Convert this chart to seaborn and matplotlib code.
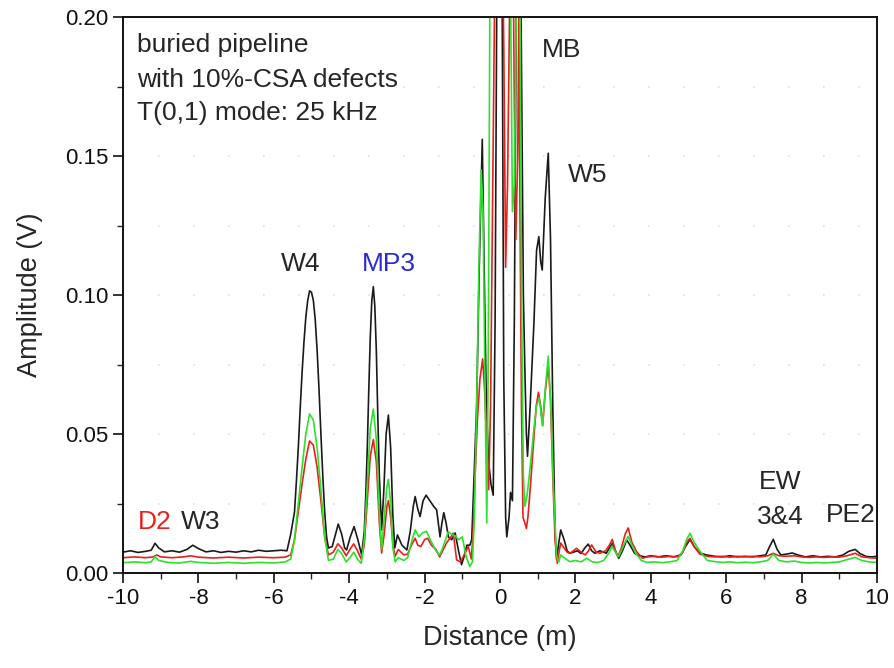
import numpy as np
import pandas as pd
import matplotlib
matplotlib.use('Agg')
import matplotlib.pyplot as plt
from matplotlib.ticker import MultipleLocator
import seaborn as sns

# black trace (reference)
black_x = [-10.0, -9.8, -9.6, -9.4, -9.25, -9.15, -9.05, -8.9, -8.7, -8.5, -8.3, -8.15, -8.0, -7.8, -7.6,
           -7.4, -7.2, -7.0, -6.8, -6.6, -6.4, -6.2, -6.0, -5.8, -5.65, -5.55, -5.45, -5.4, -5.35, -5.3,
           -5.25, -5.2, -5.15, -5.1, -5.05, -5.0, -4.95, -4.9, -4.85, -4.8, -4.75, -4.7, -4.65, -4.6, -4.55,
           -4.45, -4.38, -4.29, -4.2, -4.12, -4.07, -3.97, -3.87, -3.77, -3.67, -3.6, -3.56, -3.52, -3.48,
           -3.44, -3.4, -3.36, -3.32, -3.28, -3.24, -3.2, -3.14, -3.08, -3.02, -2.96, -2.9, -2.84,
           -2.79, -2.72, -2.6, -2.47, -2.38, -2.3, -2.25, -2.18, -2.12, -2.04, -1.96, -1.86, -1.76, -1.68,
           -1.59, -1.54, -1.49, -1.43, -1.37, -1.28, -1.19, -1.1, -1.02, -0.95, -0.88, -0.8, -0.75, -0.7,
           -0.62, -0.55, -0.47, -0.42, -0.36, -0.3, -0.24, -0.18, -0.13, -0.08, 0.0, 0.06, 0.1, 0.15, 0.18,
           0.24, 0.28, 0.33, 0.38, 0.43, 0.5, 0.56, 0.62, 0.66, 0.7, 0.73, 0.8, 0.9, 0.97, 1.03, 1.08, 1.12,
           1.2, 1.28, 1.34, 1.4, 1.46, 1.5, 1.55, 1.61, 1.7, 1.78, 1.85, 1.95, 2.05, 2.15, 2.25, 2.34, 2.43,
           2.52, 2.65, 2.75, 2.82, 2.9, 2.98, 3.06, 3.15, 3.25, 3.36, 3.45, 3.57, 3.7, 3.85, 4.0, 4.2, 4.4,
           4.6, 4.8, 4.92, 5.04, 5.15, 5.3, 5.48, 5.7, 5.9, 6.1, 6.3, 6.5, 6.7, 6.9, 7.05, 7.15, 7.25, 7.35,
           7.45, 7.6, 7.75, 7.9, 8.1, 8.3, 8.5, 8.7, 8.9, 9.1, 9.25, 9.42, 9.55, 9.7, 9.85, 10.0]
black_y = [0.0075, 0.0080, 0.0074, 0.0078, 0.0082, 0.0107, 0.0090, 0.0076, 0.0080, 0.0075, 0.0085, 0.0100,
           0.0088, 0.0076, 0.0080, 0.0074, 0.0078, 0.0075, 0.0080, 0.0076, 0.0082, 0.0078, 0.0080, 0.0082,
           0.0080, 0.0140, 0.0220, 0.033, 0.045, 0.059, 0.072, 0.083, 0.092, 0.098, 0.1015, 0.101, 0.098,
           0.091, 0.080, 0.066, 0.050, 0.035, 0.022, 0.013, 0.009, 0.0095,
           0.013, 0.0176, 0.014, 0.009, 0.0083, 0.013, 0.0167, 0.012, 0.0065, 0.015, 0.028, 0.045, 0.066,
           0.085, 0.098, 0.103, 0.096, 0.080, 0.056, 0.035, 0.0155, 0.030, 0.050, 0.0568, 0.045, 0.020,
           0.009, 0.0137, 0.010, 0.0083, 0.015,
           0.024, 0.0275, 0.023, 0.0203, 0.026, 0.028, 0.026, 0.024, 0.0227, 0.013, 0.018, 0.0217, 0.018,
           0.013, 0.012, 0.0144, 0.008, 0.003, 0.006, 0.010, 0.010, 0.012, 0.030, 0.060, 0.110, 0.156, 0.110,
           0.060, 0.040, 0.032, 0.028, 0.090, 0.220, 0.260, 0.200, 0.070, 0.020, 0.013, 0.020, 0.029, 0.026,
           0.090, 0.200, 0.260, 0.200, 0.100, 0.073, 0.050, 0.042, 0.060, 0.090, 0.116, 0.121, 0.112, 0.109,
           0.135, 0.151, 0.120, 0.060, 0.015, 0.005, 0.010, 0.0155, 0.012, 0.008, 0.0071, 0.0075, 0.008,
           0.007, 0.009, 0.0104, 0.008, 0.0071, 0.008, 0.0075, 0.0071, 0.009, 0.0107, 0.008, 0.0053, 0.008,
           0.0119, 0.010, 0.0071, 0.0062, 0.0058, 0.0062, 0.0058, 0.0062, 0.0058, 0.0065, 0.0095, 0.0121,
           0.0095, 0.0072, 0.0065, 0.0060, 0.0058, 0.0062, 0.0058, 0.0060, 0.0058, 0.0062, 0.0065, 0.0095,
           0.0121, 0.0085, 0.0065, 0.0068, 0.0072, 0.0065, 0.0058, 0.0062, 0.0058, 0.0060, 0.0058, 0.0065,
           0.0078, 0.0085, 0.0070, 0.0060, 0.0058, 0.0060]

# red trace
red_x = [-10.0, -9.7, -9.4, -9.2, -9.1, -9.0, -8.7, -8.4, -8.2, -8.0, -7.6, -7.2, -6.8, -6.4, -6.0, -5.7,
         -5.55, -5.45, -5.35, -5.25, -5.15, -5.05, -4.95, -4.85, -4.75, -4.65, -4.55, -4.42, -4.3, -4.2,
         -4.08, -3.98, -3.88, -3.78, -3.68, -3.6, -3.52, -3.44, -3.36, -3.28, -3.2, -3.14, -3.07, -3.0,
         -2.96, -2.9, -2.84, -2.78, -2.7, -2.55, -2.45, -2.35, -2.25, -2.18, -2.1, -2.0, -1.92, -1.82, -1.7,
         -1.6, -1.52, -1.43, -1.36, -1.3, -1.24, -1.18, -1.15, -1.05, -0.95, -0.88, -0.84, -0.76, -0.71,
         -0.66, -0.6, -0.53, -0.46, -0.4, -0.35, -0.3, -0.25, -0.2, -0.14, -0.08, -0.02, 0.04, 0.1, 0.15,
         0.2, 0.27, 0.33, 0.38, 0.42, 0.47, 0.5, 0.53, 0.57, 0.61, 0.66, 0.7, 0.74, 0.8, 0.88, 0.96, 1.02,
         1.08, 1.13, 1.2, 1.28, 1.34, 1.4, 1.46, 1.52, 1.56, 1.61, 1.7, 1.78, 1.85, 1.95, 2.03, 2.15, 2.26,
         2.35, 2.43, 2.55, 2.65, 2.8, 2.9, 2.98, 3.06, 3.13, 3.22, 3.32, 3.4, 3.5, 3.62, 3.78, 3.9, 4.1,
         4.3, 4.5, 4.7, 4.85, 4.95, 5.04, 5.15, 5.3, 5.5, 5.7, 5.9, 6.1, 6.3, 6.5, 6.7, 6.9, 7.1, 7.25,
         7.4, 7.6, 7.8, 8.0, 8.2, 8.4, 8.6, 8.8, 9.0, 9.2, 9.42, 9.6, 9.8, 10.0]
red_y = [0.0055, 0.0058, 0.0055, 0.0058, 0.0065, 0.0058, 0.0055, 0.0058, 0.0062, 0.0057, 0.0054, 0.0057,
         0.0054, 0.0057, 0.0055, 0.0057, 0.0065, 0.012, 0.022, 0.032, 0.041, 0.0475, 0.046, 0.038, 0.026,
         0.013, 0.0065, 0.0075, 0.0105, 0.009, 0.0062, 0.0085, 0.0105, 0.008, 0.005, 0.010, 0.026, 0.042,
         0.048, 0.040, 0.018, 0.0072, 0.014, 0.024, 0.026, 0.020, 0.010, 0.006, 0.0085, 0.0065, 0.0068,
         0.010, 0.0125, 0.010, 0.0095, 0.012, 0.0125, 0.010, 0.0085, 0.0058, 0.008, 0.0105, 0.012, 0.013,
         0.0143, 0.008, 0.0047, 0.004, 0.0065, 0.0085, 0.0095, 0.005, 0.015, 0.035, 0.055, 0.070, 0.077,
         0.064, 0.045, 0.030, 0.060, 0.130, 0.210, 0.250, 0.240, 0.250, 0.190, 0.110, 0.140, 0.220, 0.250,
         0.170, 0.120, 0.150, 0.200, 0.130, 0.060, 0.020, 0.018, 0.016, 0.020, 0.030, 0.045, 0.060, 0.065,
         0.060, 0.053, 0.065, 0.075, 0.062, 0.035, 0.012, 0.0035, 0.007, 0.0108, 0.009, 0.0075, 0.0071,
         0.008, 0.0089, 0.0075, 0.0065, 0.008, 0.0101, 0.0075, 0.0071, 0.008, 0.010, 0.0121, 0.008, 0.0059,
         0.009, 0.014, 0.0162, 0.011, 0.0077, 0.0053, 0.0058, 0.0060, 0.0057, 0.0060, 0.0058, 0.0075,
         0.011, 0.0125, 0.0095, 0.0068, 0.0060, 0.0058, 0.0060, 0.0057, 0.0060, 0.0058, 0.0060, 0.0058,
         0.0062, 0.0071, 0.0062, 0.0060, 0.0062, 0.0058, 0.0056, 0.0058, 0.0056, 0.0058, 0.0057, 0.0062,
         0.0071, 0.0058, 0.0055, 0.0053]

# green trace
green_x = [-10.0, -9.7, -9.4, -9.25, -9.15, -9.05, -8.8, -8.5, -8.2, -8.0, -7.6, -7.2, -6.8, -6.4, -6.0,
           -5.7, -5.55, -5.45, -5.35, -5.25, -5.15, -5.05, -4.95, -4.85, -4.75, -4.65, -4.55, -4.42, -4.3,
           -4.2, -4.08, -3.98, -3.88, -3.78, -3.68, -3.6, -3.52, -3.44, -3.36, -3.28, -3.2, -3.14, -3.07,
           -3.0, -2.96, -2.9, -2.84, -2.78, -2.7, -2.55, -2.45, -2.35, -2.25, -2.15, -2.05, -1.95, -1.85,
           -1.7, -1.6, -1.52, -1.43, -1.37, -1.3, -1.2, -1.1, -1.0, -0.9, -0.8, -0.73, -0.68, -0.62, -0.56,
           -0.5, -0.45, -0.4, -0.35, -0.31, -0.27, -0.22, -0.1, 0.0, 0.1, 0.2, 0.28, 0.33, 0.38, 0.43, 0.48,
           0.53, 0.57, 0.62, 0.66, 0.72, 0.8, 0.9, 0.97, 1.04, 1.1, 1.13, 1.2, 1.28, 1.35, 1.42, 1.5, 1.56,
           1.61, 1.7, 1.85, 2.0, 2.15, 2.3, 2.45, 2.6, 2.75, 2.88, 2.97, 3.06, 3.15, 3.28, 3.4, 3.5, 3.6,
           3.75, 3.9, 4.1, 4.3, 4.5, 4.7, 4.85, 4.95, 5.04, 5.15, 5.31, 5.5, 5.7, 5.9, 6.1, 6.3, 6.5, 6.7,
           6.9, 7.1, 7.25, 7.4, 7.6, 7.8, 8.0, 8.2, 8.4, 8.6, 8.8, 9.0, 9.2, 9.42, 9.6, 9.8, 10.0]
green_y = [0.0037, 0.0040, 0.0037, 0.0040, 0.0059, 0.0045, 0.0038, 0.0036, 0.0042, 0.0038, 0.0035, 0.0038,
           0.0035, 0.0038, 0.0036, 0.0040, 0.0050, 0.012, 0.025, 0.038, 0.050, 0.0572, 0.055, 0.045, 0.030,
           0.013, 0.0045, 0.005, 0.0085, 0.007, 0.004, 0.0055, 0.0075, 0.005, 0.0035, 0.012, 0.032, 0.052,
           0.059, 0.048, 0.022, 0.0085, 0.020, 0.031, 0.0337, 0.025, 0.009, 0.004, 0.0055, 0.0045, 0.0055,
           0.011, 0.0155, 0.013, 0.0145, 0.015, 0.012, 0.008, 0.0065, 0.009, 0.0125, 0.0149, 0.014, 0.0135,
           0.012, 0.013, 0.006, 0.0023, 0.004, 0.020, 0.059, 0.110, 0.145, 0.130, 0.070, 0.018, 0.080, 0.200,
           0.260, 0.260, 0.250, 0.260, 0.260, 0.210, 0.130, 0.140, 0.200, 0.260, 0.210, 0.100, 0.035, 0.024,
           0.028, 0.038, 0.052, 0.060, 0.063, 0.056, 0.053, 0.066, 0.078, 0.060, 0.030, 0.006, 0.004, 0.0065,
           0.0055, 0.0041, 0.0045, 0.0040, 0.0053, 0.0040, 0.0038, 0.0045, 0.007, 0.0095, 0.0075, 0.0059,
           0.010, 0.0132, 0.010, 0.0071, 0.0045, 0.0038, 0.0040, 0.0037, 0.0040, 0.0045, 0.008, 0.012,
           0.0143, 0.011, 0.0077, 0.0045, 0.0041, 0.0038, 0.0040, 0.0037, 0.0039, 0.0037, 0.0040, 0.0045,
           0.0068, 0.0045, 0.0040, 0.0043, 0.0038, 0.0036, 0.0038, 0.0036, 0.0038, 0.0040, 0.0048, 0.0056,
           0.0045, 0.0040, 0.0038]

x_ticks = [-10, -8, -6, -4, -2, 0, 2, 4, 6, 8, 10]
y_ticks = [0.00, 0.05, 0.10, 0.15, 0.20]

frames = []
for name, xs, ys in [('black', black_x, black_y), ('red', red_x, red_y), ('green', green_x, green_y)]:
    frames.append(pd.DataFrame({'Distance': xs, 'Amplitude': ys, 'trace': name}))
df = pd.concat(frames, ignore_index=True)

sns.set_style('ticks')
plt.rcParams['font.family'] = ['Liberation Sans', 'DejaVu Sans']

fig = plt.figure(figsize=(8.95, 6.68), dpi=100)
ax = fig.add_axes([0.1374, 0.1422, 0.8425, 0.8323])

sns.lineplot(data=df, x='Distance', y='Amplitude', hue='trace',
             palette={'black': '#1a1a1a', 'red': '#e8201c', 'green': '#2ee02e'},
             estimator=None, sort=False, legend=False, linewidth=1.2, ax=ax)

ax.set_xlim(-10, 10)
ax.set_ylim(0, 0.2)
ax.set_xticks(x_ticks)
ax.set_xticklabels([str(t) for t in x_ticks])
ax.set_yticks(y_ticks)
ax.set_yticklabels([f'{t:.2f}' for t in y_ticks])
ax.xaxis.set_minor_locator(MultipleLocator(1))
ax.yaxis.set_minor_locator(MultipleLocator(0.025))
ax.tick_params(which='major', direction='out', length=7, width=1.2, labelsize=16, colors='#111111')
ax.tick_params(which='minor', direction='out', length=4, width=1.0)
ax.grid(True, which='both', axis='y', color='#bfeef2', linestyle=(0, (1, 20)), linewidth=1.2)
for s in ax.spines.values():
    s.set_linewidth(1.4)
    s.set_color('#111111')

ax.set_xlabel('Distance (m)', fontsize=19.5, labelpad=12)
ax.set_ylabel('Amplitude (V)', fontsize=19.5, labelpad=16)

fs = 19
ax.text(-9.63, 0.19, 'buried pipeline', fontsize=fs, va='center')
ax.text(-9.63, 0.1775, 'with 10%-CSA defects', fontsize=fs, va='center')
ax.text(-9.63, 0.1655, 'T(0,1) mode: 25 kHz', fontsize=fs, va='center')
ax.text(1.64, 0.188, 'MB', fontsize=fs, ha='center', va='center')
ax.text(2.33, 0.143, 'W5', fontsize=fs, ha='center', va='center')
ax.text(-5.28, 0.111, 'W4', fontsize=fs, ha='center', va='center')
ax.text(-2.94, 0.111, 'MP3', fontsize=fs, ha='center', va='center', color='#2a2ad0')
ax.text(-9.15, 0.0183, 'D2', fontsize=fs, ha='center', va='center', color='#e8201c')
ax.text(-7.93, 0.0183, 'W3', fontsize=fs, ha='center', va='center')
ax.text(7.43, 0.0327, 'EW', fontsize=fs, ha='center', va='center')
ax.text(7.43, 0.0201, '3&4', fontsize=fs, ha='center', va='center')
ax.text(9.31, 0.0209, 'PE2', fontsize=fs, ha='center', va='center')

fig.savefig('out.png', dpi=100)
